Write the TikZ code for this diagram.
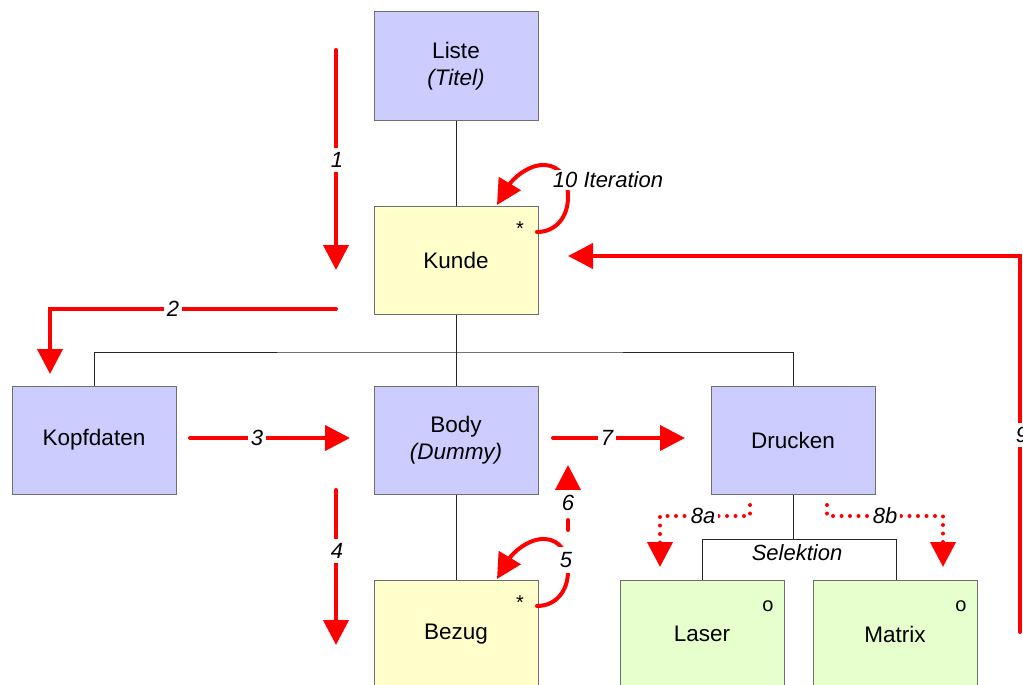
\documentclass[tikz,border=0pt]{standalone}
\usepackage{fontspec}
\setmainfont{Liberation Sans}
\usetikzlibrary{arrows.meta}
\definecolor{lav}{HTML}{CCCCFF}
\definecolor{yel}{HTML}{FFFFCC}
\definecolor{grn}{HTML}{E6FFCC}
\definecolor{bord}{HTML}{6F6F6F}
\definecolor{arr}{HTML}{FF0000}
\begin{document}
\begin{tikzpicture}[x=1pt,y=-1pt,
  box/.style={draw=bord,line width=1pt,minimum width=164pt,minimum height=108pt,inner sep=0pt,
    font=\fontsize{22.5}{27}\selectfont,align=center},
  conn/.style={draw=black!85,line width=1pt},
  redarr/.style={draw=arr,line width=4pt,line cap=round,-{Triangle[width=25pt,length=25pt]}},
  dotarr/.style={draw=arr,line width=4pt,line cap=round,dash pattern=on 0pt off 8.5pt,
    -{Triangle[width=25pt,length=25pt]}},
  lbl/.style={fill=white,inner sep=3pt,font=\fontsize{22}{25}\selectfont\itshape},
  corner/.style={inner sep=0pt,font=\fontsize{20}{22}\selectfont}]
\useasboundingbox (0,0) rectangle (1023,685);
\clip (0,0) rectangle (1023,685);

% boxes
\node[box,fill=lav] (liste) at (456,66) {Liste\\\textit{(Titel)}};
\node[box,fill=yel] (kunde) at (456,260) {Kunde};
\node[box,fill=lav] (kopf) at (94,440) {Kopfdaten};
\node[box,fill=lav] (body) at (456,440) {Body\\\textit{(Dummy)}};
\node[box,fill=lav] (druck) at (793,440) {Drucken};
\node[box,fill=yel] (bezug) at (456,634) {Bezug};
\node[box,fill=grn] (laser) at (702,634) {Laser};
\node[box,fill=grn] (matrix) at (895,634) {Matrix};

% markers
\node[corner] (s1) at (520,229) {*};
\node[corner] (s2) at (520,603) {*};
\node[corner] (o1) at (768,606) {o};
\node[corner] (o2) at (961,606) {o};

% tree connectors
\coordinate (hub) at (456,352);
\coordinate (selL) at (702,539);
\coordinate (selR) at (896,539);
\draw[conn] (liste.south) -- (kunde.north);
\draw[conn] (kunde.south) -- (hub);
\draw[conn] (kopf.north) |- (hub) -| (druck.north);
\draw[conn] (hub) -- (body.north);
\draw[conn] (body.south) -- (bezug.north);
\draw[conn] (druck.south) -- (druck.south |- selL);
\draw[conn] (laser.north) -- (selL) -- (selR) -- (selR |- matrix.north);
\node[inner sep=0pt,font=\fontsize{22}{25}\selectfont\itshape] (sel) at (797,553) {Selektion};

% red arrows
\coordinate (a1s) at (336,50);  \coordinate (a1e) at (336,270);
\draw[redarr] (a1s) -- (a1e);
\coordinate (a2s) at (336,309); \coordinate (a2c) at (50,309); \coordinate (a2e) at (50,374);
\draw[redarr] (a2s) -- (a2c) -- (a2e);
\coordinate (a3s) at (190,438); \coordinate (a3e) at (350,438);
\draw[redarr] (a3s) -- (a3e);
\coordinate (a4s) at (336,490); \coordinate (a4e) at (336,645);
\draw[redarr] (a4s) -- (a4e);
\coordinate (a7s) at (553,438); \coordinate (a7e) at (685,438);
\draw[redarr] (a7s) -- (a7e);
\coordinate (a6s) at (568,530); \coordinate (a6e) at (568,465);
\draw[redarr,dash pattern=on 10pt off 10pt] (a6s) -- (a6e);
\coordinate (a9s) at (1020,632); \coordinate (a9c) at (1020,256); \coordinate (a9e) at (568,256);
\draw[redarr] (a9s) -- (a9c) -- (a9e);
% dotted 8a / 8b
\coordinate (b1) at (750,505); \coordinate (b2) at (750,516); \coordinate (b3) at (660,516); \coordinate (b4) at (660,567);
\draw[dotarr] (b1) -- (b2) -- (b3) -- (b4);
\coordinate (c1) at (827,505); \coordinate (c2) at (827,516); \coordinate (c3) at (943,516); \coordinate (c4) at (943,567);
\draw[dotarr] (c1) -- (c2) -- (c3) -- (c4);
% loops
\coordinate (l1s) at (537,232); \coordinate (l1e) at (497,205);
\draw[redarr] (l1s) .. controls (555,232) and (568,218) .. (568,197)
  .. controls (568,178) and (560,166) .. (545,165)
  .. controls (528,164) and (512,180) .. (l1e);
\coordinate (l2s) at (537,606); \coordinate (l2e) at (497,579);
\draw[redarr] (l2s) .. controls (555,606) and (568,592) .. (568,571)
  .. controls (568,552) and (560,540) .. (545,539)
  .. controls (528,538) and (512,554) .. (l2e);

% labels
\node[lbl,inner sep=4pt] (t1) at (337,160) {1};
\node[lbl] (t2) at (173,309) {2};
\node[lbl] (t3) at (257,438) {3};
\node[lbl,inner sep=4pt] (t4) at (337,551) {4};
\node[lbl,inner sep=5pt] (t5) at (566,560) {5};
\node[lbl,inner sep=5pt] (t6) at (568,503) {6};
\node[lbl] (t7) at (607,438) {7};
\node[lbl] (t8a) at (703,516) {8a};
\node[lbl] (t8b) at (885,516) {8b};
\node[lbl,inner sep=4pt] (t9) at (1022,435) {9};
\node[lbl,inner sep=2pt] (t10) at (608,180) {10 Iteration};
\end{tikzpicture}
\end{document}
